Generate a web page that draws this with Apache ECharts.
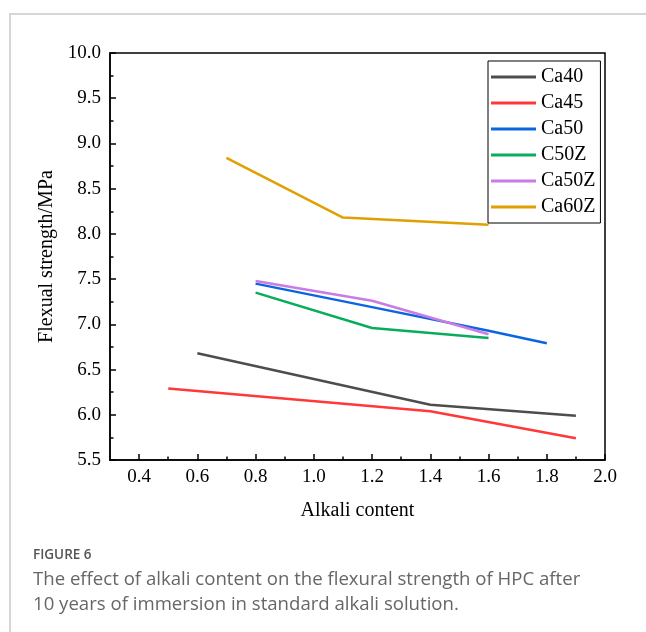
<!DOCTYPE html>
<html>
<head>
<meta charset="utf-8">
<script src="https://cdn.jsdelivr.net/npm/echarts@6/dist/echarts.min.js"></script>
<style>
  html, body { margin: 0; padding: 0; background: #fff; width: 646px; height: 632px; overflow: hidden; }
  #card { position: absolute; left: 9px; top: 13px; width: 700px; height: 700px; border: 2px solid #d6d6d6; box-sizing: border-box; }
  #chart { position: absolute; left: 0; top: 0; width: 646px; height: 632px; }
  #fig { position: absolute; left: 33px; top: 545px; font-family: "Open Sans", sans-serif; font-size: 13.5px; font-weight: 600; color: #555; }
  #cap { position: absolute; left: 33px; top: 565px; width: 610px; font-family: "Open Sans", sans-serif; font-size: 18.6px; line-height: 25px; color: #666; white-space: nowrap; }
</style>
</head>
<body>
<div id="card"></div>
<div id="chart"></div>
<div id="fig">FIGURE 6</div>
<div id="cap">The effect of alkali content on the flexural strength of HPC after<br>10 years of immersion in standard alkali solution.</div>
<script>
// ---- data ----
const seriesNames = ['Ca40', 'Ca45', 'Ca50', 'C50Z', 'Ca50Z', 'Ca60Z'];
const xCa40 = [0.6, 1.4, 1.9];
const yCa40 = [6.68, 6.11, 5.99];
const xCa45 = [0.5, 1.4, 1.9];
const yCa45 = [6.29, 6.04, 5.74];
const xCa50 = [0.8, 1.2, 1.6, 1.8];
const yCa50 = [7.45, 7.19, 6.93, 6.79];
const xC50Z = [0.8, 1.2, 1.6];
const yC50Z = [7.35, 6.96, 6.85];
const xCa50Z = [0.8, 1.2, 1.6];
const yCa50Z = [7.48, 7.26, 6.89];
const xCa60Z = [0.7, 1.1, 1.6];
const yCa60Z = [8.84, 8.18, 8.10];
const xTickLabels = [0.4, 0.6, 0.8, 1.0, 1.2, 1.4, 1.6, 1.8, 2.0];
const xMinorTicks = [0.5, 0.7, 0.9, 1.1, 1.3, 1.5, 1.7, 1.9];

const xs = [xCa40, xCa45, xCa50, xC50Z, xCa50Z, xCa60Z];
const ys = [yCa40, yCa45, yCa50, yC50Z, yCa50Z, yCa60Z];
const colors = ['#4d4d4d', '#ff3838', '#0a66e0', '#08ad5c', '#c97be6', '#e0a000'];

const font = 'Liberation Serif';
const chart = echarts.init(document.getElementById('chart'), null, { renderer: 'canvas' });

const series = seriesNames.map((n, i) => ({
  name: n,
  type: 'line',
  xAxisIndex: 0,
  yAxisIndex: 0,
  data: xs[i].map((x, j) => [x, ys[i][j]]),
  showSymbol: false,
  symbol: 'none',
  lineStyle: { width: 2.5, color: colors[i] },
  itemStyle: { color: colors[i] },
  animation: false
}));

chart.setOption({
  animation: false,
  color: colors,
  grid: { left: 110, right: 41, top: 53, bottom: 172, show: true, borderColor: '#000', borderWidth: 1.5, containLabel: false },
  legend: {
    orient: 'vertical',
    left: 488, top: 61,
    icon: 'rect',
    itemWidth: 45, itemHeight: 3,
    itemGap: 6,
    padding: [6, 5, 6, 3],
    borderColor: '#000', borderWidth: 1,
    textStyle: { fontFamily: font, fontSize: 20, color: '#000', lineHeight: 20 },
    data: seriesNames
  },
  xAxis: [{
    type: 'value',
    min: 0.3, max: 2.0,
    name: 'Alkali content',
    nameLocation: 'middle',
    nameGap: 41,
    nameTextStyle: { fontFamily: font, fontSize: 20, color: '#000' },
    axisLine: { show: true, lineStyle: { color: '#000', width: 1.5 } },
    axisTick: { show: true, inside: true, length: 6, lineStyle: { color: '#000', width: 1.5 }, customValues: xTickLabels },
    axisLabel: { show: true, margin: 8, fontFamily: font, fontSize: 19, color: '#000', customValues: xTickLabels, formatter: v => v.toFixed(1) },
    splitLine: { show: false }
  }, {
    type: 'value',
    position: 'bottom',
    min: 0.3, max: 2.0,
    axisLine: { show: false },
    axisTick: { show: true, inside: true, length: 3.5, lineStyle: { color: '#000', width: 1.5 }, customValues: xMinorTicks },
    axisLabel: { show: false },
    splitLine: { show: false }
  }],
  yAxis: {
    type: 'value',
    min: 5.5, max: 10.0, interval: 0.5,
    name: 'Flexual strength/MPa',
    nameLocation: 'middle',
    nameGap: 46,
    nameTextStyle: { fontFamily: font, fontSize: 20, color: '#000' },
    axisLine: { show: true, lineStyle: { color: '#000', width: 1.5 } },
    axisTick: { show: true, inside: true, length: 6, lineStyle: { color: '#000', width: 1.5 } },
    minorTick: { show: true, splitNumber: 2, length: 3.5, lineStyle: { color: '#000', width: 1.5 } },
    axisLabel: { margin: 9, fontFamily: font, fontSize: 19, color: '#000', formatter: v => v.toFixed(1) },
    splitLine: { show: false }
  },
  series: series
});
</script>
</body>
</html>
